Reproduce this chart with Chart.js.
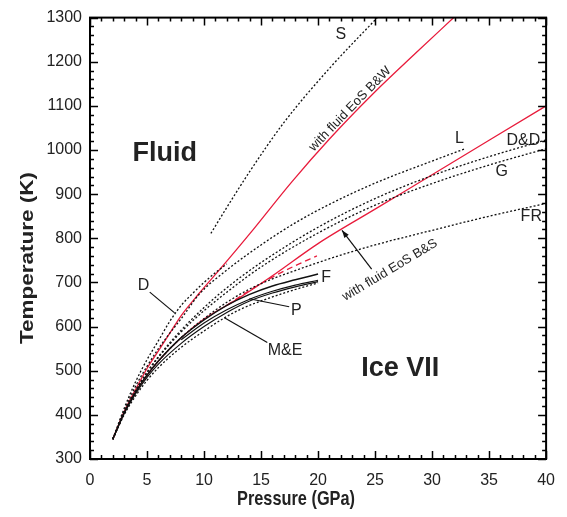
<!DOCTYPE html>
<html><head><meta charset="utf-8">
<script src="https://cdn.jsdelivr.net/npm/chart.js@4.4.1/dist/chart.umd.min.js"></script>
<style>html,body{margin:0;padding:0;background:#fff}#wrap{width:567px;height:517px}</style>
</head><body><div id="wrap"><canvas id="c" width="567" height="517"></canvas></div>
<script>
// ---- data (pressure GPa, temperature K) ----
const xTickValues = [0,5,10,15,20,25,30,35,40];
const yTickValues = [300,400,500,600,700,800,900,1000,1100,1200,1300];
const xTitle = 'Pressure (GPa)';
const yTitle = 'Temperature (K)';

const bwP = [2.0,3,4,5,6,7,8,9.6,11.4,14,17.7,21,25,28.5,31.9];
const bwT = [345,408,458,505,545,585,625,676,730,810,928,1025,1132,1218,1300];

const bsP = [2.0,3,4,5,6,8,10,13.1,16,20,25,30,35,40];
const bsT = [345,405,452,490,522,575,617,665,715,788,866,944,1022,1100];

const bsDashP = [12,14,16,18,19.9];
const bsDashT = [648,682,712,738,760];

const fUpP = [2.0,3,4,5,6,8,10,12,14,16,18,20];
const fUpT = [345,405,452,490,522,575,615,648,673,692,706,719];
const fLoP = [8,10,12,14,16,18,20];
const fLoT = [570,608,638,662,680,694,705];

const pP = [2.0,3,4,5,6,8,10,12,14,16,18,20];
const pT = [345,403,448,485,515,562,600,632,658,676,690,702];

const meP = [2.0,3,4,5,6,8,10,11.8,13.1,15,18,20];
const meT = [345,400,443,478,507,553,590,620,638,658,684,699];

const dP = [2.0,3,4,5,6,7,8,9,10,11,12];
const dT = [345,415,475,525,568,612,648,675,700,722,742];

const lP = [2.0,3,4,5,6,7,8,9.6,12,15,18,21,25,30,32.9];
const lT = [345,410,465,510,550,585,618,674,728,785,835,877,925,975,1003];

const ddP = [2.0,3,4,5,6,8,10,12,15,20,25,30,35,40];
const ddT = [345,405,455,497,532,592,643,688,745,825,890,942,985,1023];

const gP = [2.0,3,4,5,6,8,10,12,15,20,25,30,35,40];
const gT = [345,405,455,495,530,588,636,678,735,812,875,924,966,1003];

const frP = [2.0,3,4,5,6,8,10,12,14,16,18,20,22,25,30,35,40];
const frT = [345,404,452,490,522,575,618,655,685,708,727,745,762,785,818,850,879];

const sP = [10.6,12,14,17,21,25.2];
const sT = [811,870,951,1062,1185,1300];

function pts(P,T){ return P.map((p,i)=>({x:p,y:T[i]})); }

const RED = 'rgb(232,28,60)';
const BLK = '#111';
function dotted(P,T){ return {data:pts(P,T),borderColor:BLK,borderWidth:1.3,borderDash:[2,2],pointRadius:0,fill:false,tension:0.4,cubicInterpolationMode:'monotone'}; }
function solid(P,T,c,w){ return {data:pts(P,T),borderColor:c,borderWidth:w,pointRadius:0,fill:false,tension:0.4,cubicInterpolationMode:'monotone'}; }

const datasets = [
  dotted(sP,sT), dotted(lP,lT), dotted(ddP,ddT), dotted(gP,gT), dotted(frP,frT),
  dotted(dP,dT), dotted(meP,meT),
  solid(fUpP,fUpT,BLK,1.4), solid(fLoP,fLoT,BLK,1.2), solid(pP,pT,BLK,1.2),
  Object.assign(solid(bsDashP,bsDashT,RED,1.3),{borderDash:[6,4]}),
  solid(bwP,bwT,RED,1.3), solid(bsP,bsT,RED,1.3)
];

const FONT = "'Liberation Sans', Arial, sans-serif";

const deco = {
  id:'deco',
  afterDraw(chart){
    const {ctx, chartArea:a, scales:{x,y}} = chart;
    ctx.save();
    ctx.strokeStyle='#000'; ctx.lineWidth=2;
    ctx.strokeRect(a.left,a.top,a.right-a.left,a.bottom-a.top);
    ctx.lineWidth=1.5;
    ctx.beginPath();
    for(let v=0; v<=40; v+=1){
      const px = Math.round(x.getPixelForValue(v))+0.5;
      const len = v%5===0?8:4;
      ctx.moveTo(px,a.bottom); ctx.lineTo(px,a.bottom-len);
      ctx.moveTo(px,a.top); ctx.lineTo(px,a.top+len);
    }
    for(let v=300; v<=1300; v+=20){
      const py = Math.round(y.getPixelForValue(v))+0.5;
      const len = v%100===0?8:4;
      ctx.moveTo(a.left,py); ctx.lineTo(a.left+len,py);
      ctx.moveTo(a.right,py); ctx.lineTo(a.right-len,py);
    }
    ctx.stroke();

    // axis titles (condensed / stretched like the reference)
    ctx.fillStyle='#222'; ctx.textAlign='center'; ctx.textBaseline='middle';
    ctx.font = "bold 21px "+FONT;
    let w = ctx.measureText(xTitle).width;
    ctx.save(); ctx.translate(296, 499); ctx.scale(118/w,1); ctx.fillText(xTitle,0,0); ctx.restore();
    ctx.font = "bold 19px "+FONT;
    w = ctx.measureText(yTitle).width;
    ctx.save(); ctx.translate(28, 258); ctx.rotate(-Math.PI/2); ctx.scale(172/w,1); ctx.fillText(yTitle,0,0); ctx.restore();

    const X = v=>x.getPixelForValue(v), Y = v=>y.getPixelForValue(v);
    ctx.font = "16px "+FONT;
    [['S',22.0,1262],['L',32.4,1025],['D&D',38.0,1021],['G',36.1,951],['FR',38.7,850],
     ['F',20.7,712],['P',18.1,636],['M&E',17.1,546],['D',4.7,692]].forEach(([t,p,T])=>ctx.fillText(t,X(p),Y(T)));

    ctx.font = "13px "+FONT;
    ctx.save(); ctx.translate(X(22.8),Y(1093)); ctx.rotate(-46*Math.PI/180); ctx.fillText('with fluid EoS B&W',0,0); ctx.restore();
    ctx.save(); ctx.translate(X(26.3),Y(728)); ctx.rotate(-31*Math.PI/180); ctx.fillText('with fluid EoS B&S',0,0); ctx.restore();

    ctx.font = "bold 27px "+FONT; ctx.fillStyle='#222';
    ctx.fillText('Fluid',X(6.55),Y(991));
    ctx.fillText('Ice VII',X(27.2),Y(505));

    ctx.strokeStyle='#111'; ctx.lineWidth=1.2;
    const seg=(p1,t1,p2,t2)=>{ctx.beginPath();ctx.moveTo(X(p1),Y(t1));ctx.lineTo(X(p2),Y(t2));ctx.stroke();};
    seg(5.24,678,7.42,631);
    seg(17.47,645,13.97,663);
    seg(15.55,564,11.79,620);
    const x1=X(24.7),y1=Y(730),x2=X(22.1),y2=Y(818);
    ctx.beginPath();ctx.moveTo(x1,y1);ctx.lineTo(x2,y2);ctx.stroke();
    const ang=Math.atan2(y2-y1,x2-x1);
    ctx.fillStyle='#111';ctx.beginPath();ctx.moveTo(x2,y2);
    ctx.lineTo(x2-8*Math.cos(ang-0.35),y2-8*Math.sin(ang-0.35));
    ctx.lineTo(x2-8*Math.cos(ang+0.35),y2-8*Math.sin(ang+0.35));ctx.closePath();ctx.fill();
    ctx.restore();
  }
};

new Chart(document.getElementById('c'),{
  type:'line',
  data:{datasets},
  options:{
    responsive:false, animation:false, devicePixelRatio:1,
    layout:{padding:{top:15,right:19,left:0,bottom:0}},
    plugins:{legend:{display:false},tooltip:{enabled:false}},
    scales:{
      x:{type:'linear',min:0,max:40,
        afterBuildTicks:s=>{s.ticks=xTickValues.map(v=>({value:v}));},
        afterFit:s=>{s.height=58;},
        grid:{display:false,drawTicks:false},border:{display:false},
        ticks:{font:{family:FONT,size:16},color:'#222',padding:12,maxRotation:0,callback:v=>String(v)}
      },
      y:{type:'linear',min:300,max:1300,
        afterBuildTicks:s=>{s.ticks=yTickValues.map(v=>({value:v}));},
        afterFit:s=>{s.width=90;},
        grid:{display:false,drawTicks:false},border:{display:false},
        ticks:{font:{family:FONT,size:16},color:'#222',padding:8,callback:v=>String(v)}
      }
    }
  },
  plugins:[deco]
});
</script></body></html>
